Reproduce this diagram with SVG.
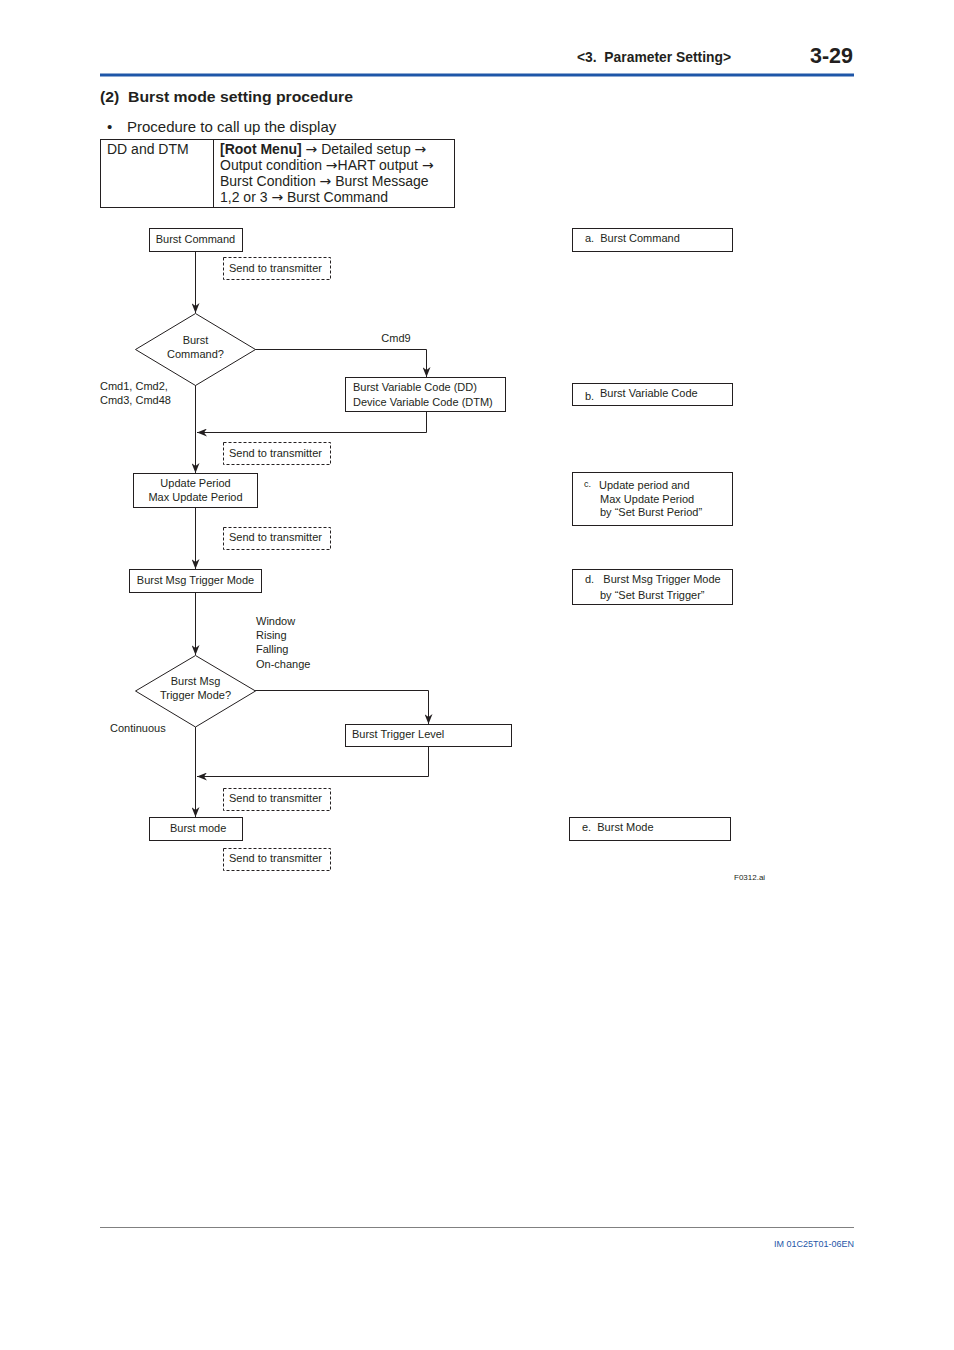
<svg xmlns="http://www.w3.org/2000/svg" width="954" height="1350" viewBox="0 0 954 1350">
<style>
text{font-family:"Liberation Sans",Arial,sans-serif;fill:#231f20;white-space:pre}
.s{font-size:11px}
.m{font-size:14px}
.ar{font-family:"DejaVu Sans",sans-serif;font-size:14px}
.box{fill:#fff;stroke:#231f20;stroke-width:1}
.dash{fill:none;stroke:#231f20;stroke-width:1;stroke-dasharray:3,2}
.ln{fill:none;stroke:#231f20;stroke-width:1}
.c{text-anchor:middle}
</style>
<defs>
<marker id="ar" viewBox="0 0 10 8" refX="10" refY="4" markerWidth="10" markerHeight="8" markerUnits="userSpaceOnUse" orient="auto">
<path d="M0,0 L10,4 L0,8 L3,4 z" fill="#231f20"/>
</marker>
</defs>
<rect width="954" height="1350" fill="#fff"/>
<g id="header">
<text x="731" y="62" font-size="14" font-weight="bold" text-anchor="end" textLength="154" lengthAdjust="spacingAndGlyphs" xml:space="preserve">&lt;3.  Parameter Setting&gt;</text>
<text x="853" y="63" font-size="22" font-weight="bold" text-anchor="end" textLength="43" lengthAdjust="spacingAndGlyphs">3-29</text>
<rect x="100" y="73.5" width="754" height="3" fill="#1e56a8"/>
<text x="100" y="102" font-size="15" font-weight="bold" textLength="253" lengthAdjust="spacingAndGlyphs" xml:space="preserve">(2)  Burst mode setting procedure</text>
<text x="107" y="132" font-size="15">•</text>
<text x="127" y="132" font-size="15">Procedure to call up the display</text>
</g>
<g id="table">
<rect x="100.5" y="139.5" width="354" height="68" class="box"/>
<line x1="213.5" y1="139.5" x2="213.5" y2="207.5" class="ln"/>
<text x="107" y="154" class="m">DD and DTM</text>
<text x="220" y="154" class="m" xml:space="preserve"><tspan font-weight="bold">[Root Menu]</tspan> <tspan class="ar">→</tspan> Detailed setup <tspan class="ar">→</tspan></text>
<text x="220" y="170" class="m" xml:space="preserve">Output condition <tspan class="ar">→</tspan>HART output <tspan class="ar">→</tspan></text>
<text x="220" y="186" class="m" xml:space="preserve">Burst Condition <tspan class="ar">→</tspan> Burst Message</text>
<text x="220" y="202" class="m" xml:space="preserve">1,2 or 3 <tspan class="ar">→</tspan> Burst Command</text>
</g>
<g id="connectors">
<line x1="195.5" y1="251" x2="195.5" y2="313" class="ln" marker-end="url(#ar)"/>
<polyline points="255,349.5 426.5,349.5 426.5,377" class="ln" marker-end="url(#ar)"/>
<polyline points="426.5,411 426.5,432.5 197,432.5" class="ln" marker-end="url(#ar)"/>
<line x1="195.5" y1="385" x2="195.5" y2="473" class="ln" marker-end="url(#ar)"/>
<line x1="195.5" y1="507" x2="195.5" y2="569" class="ln" marker-end="url(#ar)"/>
<line x1="195.5" y1="592" x2="195.5" y2="655" class="ln" marker-end="url(#ar)"/>
<polyline points="255,690.5 428.5,690.5 428.5,724" class="ln" marker-end="url(#ar)"/>
<polyline points="428.5,746 428.5,776.5 197,776.5" class="ln" marker-end="url(#ar)"/>
<line x1="195.5" y1="727" x2="195.5" y2="817" class="ln" marker-end="url(#ar)"/>
</g>
<g id="n-burst-command">
<rect x="149.5" y="228.5" width="93" height="23" class="box"/>
<text x="195.5" y="243" class="s c">Burst Command</text>
</g>
<g id="send1">
<rect x="223.5" y="257.5" width="107" height="22" class="dash"/>
<text x="229" y="272" class="s">Send to transmitter</text>
</g>
<g id="d-burst-command">
<polygon points="195.5,313.5 255.5,349.5 195.5,385.5 135.5,349.5" class="box"/>
<text x="195.5" y="344" class="s c">Burst</text>
<text x="195.5" y="358" class="s c">Command?</text>
</g>
<g id="lbl-cmd">
<text x="396" y="342" class="s c">Cmd9</text>
<text x="100" y="390" class="s">Cmd1, Cmd2,</text>
<text x="100" y="404" class="s">Cmd3, Cmd48</text>
</g>
<g id="n-burst-variable">
<rect x="345.5" y="377.5" width="160" height="34" class="box"/>
<text x="353" y="391" class="s">Burst Variable Code (DD)</text>
<text x="353" y="406" class="s">Device Variable Code (DTM)</text>
</g>
<g id="send2">
<rect x="223.5" y="442.5" width="107" height="22" class="dash"/>
<text x="229" y="457" class="s">Send to transmitter</text>
</g>
<g id="n-update-period">
<rect x="133.5" y="473.5" width="124" height="34" class="box"/>
<text x="195.5" y="487" class="s c">Update Period</text>
<text x="195.5" y="501" class="s c">Max Update Period</text>
</g>
<g id="send3">
<rect x="223.5" y="527.5" width="107" height="22" class="dash"/>
<text x="229" y="541" class="s">Send to transmitter</text>
</g>
<g id="n-trigger-mode">
<rect x="129.5" y="569.5" width="132" height="23" class="box"/>
<text x="195.5" y="584" class="s c">Burst Msg Trigger Mode</text>
</g>
<g id="lbl-trigger">
<text x="256" y="625" class="s">Window</text>
<text x="256" y="639" class="s">Rising</text>
<text x="256" y="653" class="s">Falling</text>
<text x="256" y="668" class="s">On-change</text>
<text x="110" y="732" class="s">Continuous</text>
</g>
<g id="d-trigger-mode">
<polygon points="195.5,655.5 255.5,691 195.5,727 135.5,691" class="box"/>
<text x="195.5" y="685" class="s c">Burst Msg</text>
<text x="195.5" y="699" class="s c">Trigger Mode?</text>
</g>
<g id="n-trigger-level">
<rect x="345.5" y="724.5" width="166" height="22" class="box"/>
<text x="352" y="738" class="s">Burst Trigger Level</text>
</g>
<g id="send4">
<rect x="223.5" y="788.5" width="107" height="22" class="dash"/>
<text x="229" y="802" class="s">Send to transmitter</text>
</g>
<g id="n-burst-mode">
<rect x="149.5" y="817.5" width="93" height="23" class="box"/>
<text x="170" y="832" class="s">Burst mode</text>
</g>
<g id="send5">
<rect x="223.5" y="848.5" width="107" height="22" class="dash"/>
<text x="229" y="862" class="s">Send to transmitter</text>
</g>
<g id="r-a">
<rect x="572.5" y="228.5" width="160" height="23" class="box"/>
<text x="585" y="242" class="s" xml:space="preserve">a.  Burst Command</text>
</g>
<g id="r-b">
<rect x="572.5" y="383.5" width="160" height="22" class="box"/>
<text x="585" y="400" class="s">b.</text>
<text x="600" y="397" class="s">Burst Variable Code</text>
</g>
<g id="r-c">
<rect x="572.5" y="472.5" width="160" height="53" class="box"/>
<text x="584" y="487" font-size="9">c.</text>
<text x="599" y="489" class="s">Update period and</text>
<text x="600" y="503" class="s">Max Update Period</text>
<text x="600" y="516" class="s">by “Set Burst Period”</text>
</g>
<g id="r-d">
<rect x="572.5" y="569.5" width="160" height="35" class="box"/>
<text x="585" y="583" class="s" xml:space="preserve">d.   Burst Msg Trigger Mode</text>
<text x="600" y="599" class="s">by “Set Burst Trigger”</text>
</g>
<g id="r-e">
<rect x="569.5" y="817.5" width="161" height="23" class="box"/>
<text x="582" y="831" class="s" xml:space="preserve">e.  Burst Mode</text>
</g>
<text x="734" y="880" font-size="8">F0312.ai</text>
<g id="footer">
<line x1="100" y1="1227.5" x2="854" y2="1227.5" stroke="#808080" stroke-width="1"/>
<text x="854" y="1247" font-size="9" text-anchor="end" style="fill:#1e56a8">IM 01C25T01-06EN</text>
</g>
</svg>
